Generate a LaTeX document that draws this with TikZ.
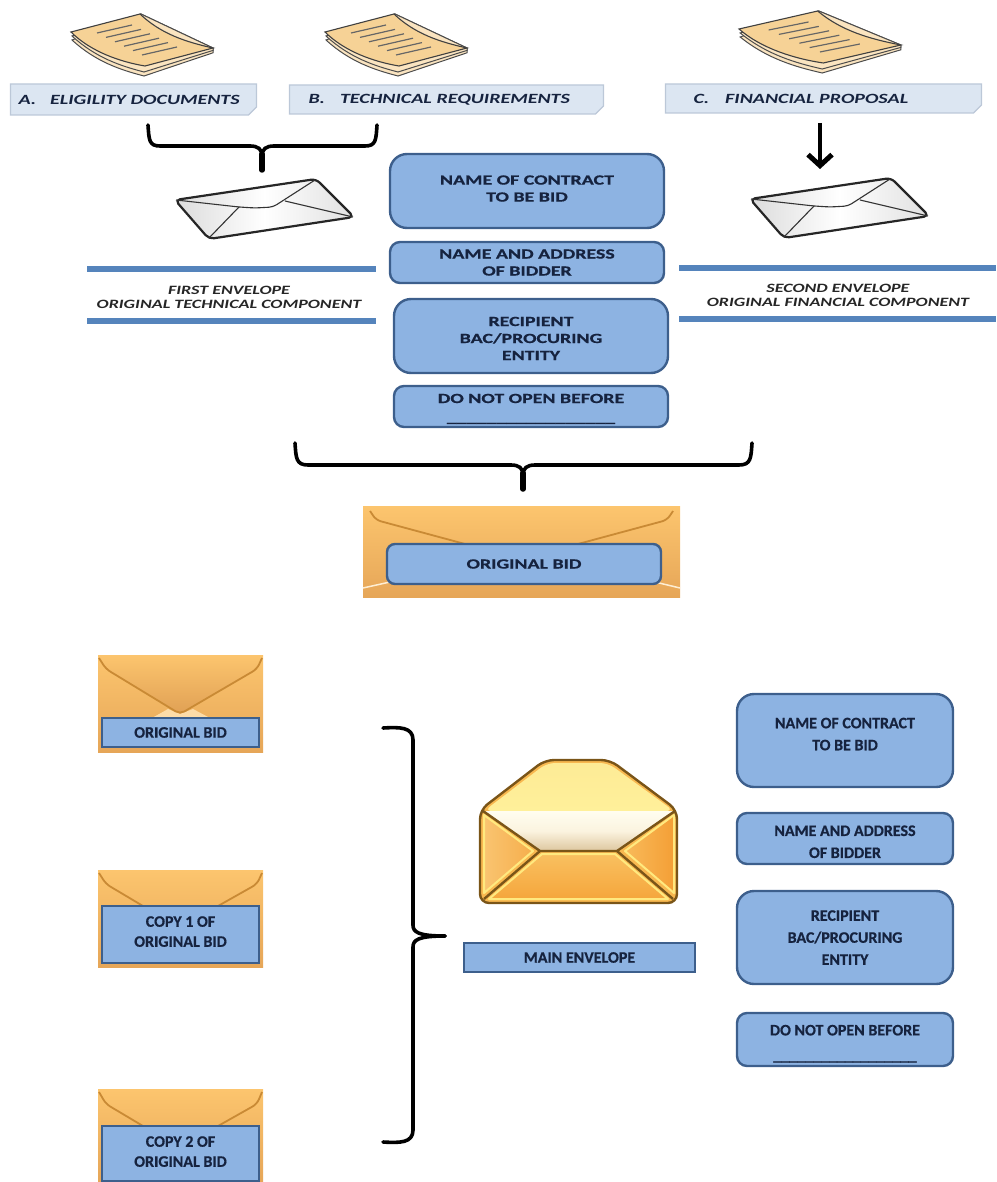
\documentclass[tikz,border=0pt]{standalone}
\usepackage{fontspec}
\usetikzlibrary{shapes.misc,arrows.meta}
\newfontfamily\widefont[FakeStretch=1.42,BoldFeatures={FakeBold=0.8}]{Carlito}
\newfontfamily\narrowfont[BoldFeatures={FakeBold=0.6}]{Carlito}
\newcommand{\lifttext}[1]{\rule[-#1pt]{0pt}{#1pt}}
\newcommand{\droptext}[1]{\rule{0pt}{#1pt}}
\definecolor{boxfill}{HTML}{8DB3E2}
\definecolor{boxedge}{HTML}{3D5F8C}
\definecolor{inknavy}{HTML}{16233F}
\definecolor{palebox}{HTML}{DCE6F2}
\definecolor{paleedge}{HTML}{BCC8D8}
\definecolor{rulecol}{HTML}{5584BC}
\definecolor{papertan}{HTML}{F6D296}
\definecolor{flapline}{HTML}{C98A35}
\definecolor{envtop}{HTML}{FCC56E}
\definecolor{envbot}{HTML}{E6A658}
\definecolor{mainedge}{HTML}{7A5518}
\definecolor{mainbase}{HTML}{F8B850}
\definecolor{flapA}{HTML}{FDEB96}
\definecolor{flapB}{HTML}{FFF09A}
\definecolor{bandA}{HTML}{FFFDF0}
\definecolor{bandB}{HTML}{FBF3DF}
\definecolor{bandC}{HTML}{DDC79F}
\definecolor{triA}{HTML}{F9C470}
\definecolor{triB}{HTML}{F6AE4C}
\definecolor{triC}{HTML}{F8BA5A}
\definecolor{triD}{HTML}{F49F36}
\definecolor{baseA}{HTML}{F9C060}
\definecolor{baseB}{HTML}{F5A63C}
\definecolor{glow}{HTML}{FFE97F}
\tikzset{
  bluebox/.style={draw=boxedge,line width=2.4pt,fill=boxfill,inner sep=0pt,align=center,text=inknavy},
  topfont/.style={font=\widefont\bfseries\fontsize{14}{17}\selectfont},
  lowfont/.style={font=\narrowfont\bfseries\fontsize{16}{22}\selectfont},
  leftfont/.style={font=\narrowfont\bfseries\fontsize{16}{20}\selectfont},
  bigr/.style={rounded corners=17pt},
  smallr/.style={rounded corners=10pt},
  squarebox/.style={draw=boxedge,line width=1.6pt,fill=boxfill,inner sep=0pt,align=center,text=inknavy},
  docbox/.style={chamfered rectangle,chamfered rectangle corners=south east,chamfered rectangle xsep=4pt,chamfered rectangle ysep=4pt,
    draw=paleedge,line width=1.2pt,fill=palebox,inner ysep=0pt,align=left,text=inknavy,
    font=\widefont\bfseries\itshape\fontsize{14.1}{14}\selectfont},
  captiontext/.style={inner sep=0pt,align=center,text=black!85,font=\widefont\bfseries\itshape\fontsize{12.7}{14}\selectfont},
  bandrule/.style={draw=rulecol,line width=6pt},
  bracepath/.style={draw=black,line width=3.6pt,line cap=round,line join=round},
  bracestem/.style={draw=black,line width=5.5pt,line cap=round},
  paperline/.style={draw=black!60,line width=1.2pt},
  mainline/.style={draw=mainedge,line width=2.4pt,line join=round},
  yellowedge/.style={draw=glow,line width=2pt,line join=round}
}
\newcommand{\docstack}[3]{%
 \begin{scope}[shift={(#1,#2)},xscale=#3]
  \foreach \d in {8,4}{
   \path[draw=black!70,line width=1pt,fill=papertan!60!white] (1,18+\d) .. controls (25,40+\d) and (50,48+\d) .. (73,54+\d) -- (142,34+\d*.6) -- (142,34) -- (70,0) -- cycle;
  }
  \path[draw=black!75,line width=1.1pt,fill=papertan] (0,18) -- (69,0) .. controls (90,20) and (115,28) .. (142,34) -- (74,52) .. controls (50,48) and (20,38) .. (0,18) -- cycle;
  \foreach \i in {0,...,5}{
   \draw[paperline] (26+9*\i,19+4.4*\i) -- (61+9*\i,11+4.4*\i);
  }
 \end{scope}}
\newcommand{\whiteenv}[2]{%
 \begin{scope}[shift={(#1,#2)}]
  \path[draw=black!85,line width=2.2pt,line join=round,rounded corners=5pt,left color=black!14,right color=black!12,middle color=white]
    (0,21) -- (141,0) -- (179,38) -- (34,60) -- cycle;
  \draw[black!80,line width=1.1pt,rounded corners=4pt] (1,21) -- (64,28) -- (80,29) -- (98,28) -- (140,1);
  \draw[black!80,line width=1.1pt] (34,59) -- (64,28);
  \draw[black!80,line width=1.1pt] (178,38) -- (110,22);
 \end{scope}}
\newcommand{\orangeenv}[4]{% x1,y1,x2,y2
 \path[bottom color=envbot,top color=envtop] (#1,#2) rectangle (#3,#4);}
\begin{document}
\begin{tikzpicture}[x=1pt,y=-1pt]
\useasboundingbox (0,0) rectangle (996,1182);
% document stacks
\docstack{71}{14}{1}
\docstack{325}{14}{1}
\docstack{739}{11}{1.14}
% document labels
\node[docbox,minimum height=31pt,inner xsep=4pt,text width=230pt] (docA) at (133.5,99.5) {A.\hspace{14pt}ELIGILITY DOCUMENTS};
\node[docbox,minimum height=29pt,inner xsep=15pt,text width=276pt] (docB) at (446.5,99.5) {B.\hspace{15pt}TECHNICAL REQUIREMENTS};
\node[docbox,minimum height=29pt,inner xsep=24pt,text width=260pt] (docC) at (823.5,98.5) {C.\hspace{16pt}FINANCIAL PROPOSAL};
% first brace
\coordinate (braceAL) at (148,125);
\coordinate (braceAR) at (377,125);
\coordinate (braceAT) at (262,170);
\draw[bracepath] (braceAL) .. controls (149,140) and (149,146) .. (160,146) -- (250,146) .. controls (258,146) and (262,149) .. (262,156);
\draw[bracepath] (braceAR) .. controls (376,140) and (376,146) .. (365,146) -- (274,146) .. controls (266,146) and (262,149) .. (262,156);
\draw[bracestem] (262,154) -- (braceAT);
% arrow
\coordinate (arrowS) at (820,123);
\coordinate (arrowE) at (820,169);
\draw[draw=black,line width=4.2pt,-{Straight Barb[length=11pt,width=24pt,line width=5pt]}] (arrowS) -- (arrowE);
% white envelopes
\whiteenv{175}{179}
\whiteenv{750}{178}
% rules
\coordinate (ruleAa) at (87,269); \coordinate (ruleAb) at (376,269);
\coordinate (ruleBa) at (87,321); \coordinate (ruleBb) at (376,321);
\coordinate (ruleCa) at (679,268); \coordinate (ruleCb) at (996,268);
\coordinate (ruleDa) at (679,319); \coordinate (ruleDb) at (996,319);
\draw[bandrule] (ruleAa) -- (ruleAb);
\draw[bandrule] (ruleBa) -- (ruleBb);
\draw[bandrule] (ruleCa) -- (ruleCb);
\draw[bandrule] (ruleDa) -- (ruleDb);
\node[captiontext] (capFirst) at (229,297) {FIRST ENVELOPE\\ORIGINAL TECHNICAL COMPONENT};
\node[captiontext] (capSecond) at (838,295) {SECOND ENVELOPE\\ORIGINAL FINANCIAL COMPONENT};
% centre stack
\node[bluebox,topfont,bigr,minimum width=274pt,minimum height=74pt] (topName) at (527,191) {NAME OF CONTRACT\\TO BE BID\lifttext{5}};
\node[bluebox,topfont,smallr,minimum width=274pt,minimum height=41pt] (topBidder) at (527,262.5) {NAME AND ADDRESS\\OF BIDDER};
\node[bluebox,topfont,bigr,minimum width=274pt,minimum height=74pt] (topRecip) at (531,336) {\droptext{14}RECIPIENT\\BAC/PROCURING\\ENTITY};
\node[bluebox,topfont,smallr,minimum width=274pt,minimum height=41pt] (topOpen) at (531,406.5) {\droptext{14}DO NOT OPEN BEFORE\\[2pt]\_\_\_\_\_\_\_\_\_\_\_\_\_\_\_\_\_};
% second brace
\coordinate (braceBL) at (295,443);
\coordinate (braceBR) at (752,443);
\coordinate (braceBT) at (523,489);
\draw[bracepath] (braceBL) .. controls (296,458) and (296,465) .. (308,465) -- (511,465) .. controls (519,465) and (523,468) .. (523,475);
\draw[bracepath] (braceBR) .. controls (751,458) and (751,465) .. (739,465) -- (535,465) .. controls (527,465) and (523,468) .. (523,475);
\draw[bracestem] (523,473) -- (braceBT);
% original bid envelope
\orangeenv{363}{506}{680}{597}
\draw[flapline,line width=1.8pt,rounded corners=5pt] (370,511) -- (376,520) -- (465,544);
\draw[flapline,line width=1.8pt,rounded corners=5pt] (673,511) -- (667,520) -- (578,544);
\draw[white!70!envtop,line width=1.5pt] (363,588) -- (390,582);
\draw[white!70!envtop,line width=1.5pt] (680,588) -- (655,582);
\node[bluebox,topfont,rounded corners=8pt,minimum width=274pt,minimum height=40pt] (mainBid) at (524,564) {ORIGINAL BID};
% left envelopes
\orangeenv{98}{655}{263}{752}
\path[top color=envtop,bottom color=envbot!85!brown] (98,655) -- (263,655) -- (257,669) -- (180,714) -- (106,669) -- cycle;
\path[fill=envtop!60!white] (152,718) -- (168,709) -- (180,714) -- (193,709) -- (210,718) -- cycle;
\draw[flapline,line width=1.8pt,rounded corners=5pt] (99,658) -- (106,669) -- (180,714) -- (257,669) -- (262,658);
\node[squarebox,leftfont,minimum width=157pt,minimum height=29pt] (leftOrig) at (180.5,732.5) {ORIGINAL BID};
\orangeenv{98}{870}{263}{967}
\draw[flapline,line width=1.8pt,rounded corners=5pt] (99,873) -- (106,884) -- (143,906);
\draw[flapline,line width=1.8pt,rounded corners=5pt] (262,873) -- (257,884) -- (218,906);
\node[squarebox,leftfont,minimum width=157pt,minimum height=57pt] (leftCopyA) at (180.5,934.5) {COPY 1 OF\\ORIGINAL BID\lifttext{6}};
\orangeenv{98}{1089}{263}{1182}
\draw[flapline,line width=1.8pt,rounded corners=5pt] (99,1092) -- (106,1104) -- (143,1126);
\draw[flapline,line width=1.8pt,rounded corners=5pt] (262,1092) -- (257,1104) -- (218,1126);
\node[squarebox,leftfont,minimum width=157pt,minimum height=55pt] (leftCopyB) at (180.5,1153.5) {COPY 2 OF\\ORIGINAL BID\lifttext{4}};
% big right brace
\coordinate (braceCT) at (383,728);
\coordinate (braceCB) at (383,1142);
\coordinate (braceCP) at (445,936);
\draw[bracepath] (braceCT) .. controls (400,727) and (413,727) .. (413,740) -- (413,925) .. controls (413,932) and (418,936) .. (braceCP);
\draw[bracepath] (braceCB) .. controls (400,1143) and (413,1143) .. (413,1130) -- (413,947) .. controls (413,940) and (418,936) .. (braceCP);
% main envelope
\path[rounded corners=9pt,fill=mainbase] (578,760) -- (610,760) -- (677,810) -- (677,903) -- (480,903) -- (480,810) -- (545,760) -- cycle;
\path[rounded corners=8pt,top color=flapA,bottom color=flapB] (484,811) -- (547,763) -- (608,763) -- (674,811) -- cycle;
\path[top color=bandA,bottom color=bandC,middle color=bandB] (485,811) -- (674,811) -- (617,851) -- (540,851) -- cycle;
\path[left color=triA,right color=triB,yellowedge] (484,815) -- (533,851) -- (484,893) -- cycle;
\path[left color=triC,right color=triD,yellowedge] (674,815) -- (625,851) -- (674,893) -- cycle;
\path[top color=baseA,bottom color=baseB,yellowedge] (542,854) -- (615,854) -- (668,899) -- (489,899) -- cycle;
\draw[mainline] (483,811) -- (540,851) -- (617,851) -- (675,811);
\draw[mainline] (540,851) -- (484,899);
\draw[mainline] (617,851) -- (673,899);
\draw[mainline,rounded corners=9pt] (578,760) -- (610,760) -- (677,810) -- (677,903) -- (480,903) -- (480,810) -- (545,760) -- cycle;
\node[squarebox,lowfont,minimum width=231pt,minimum height=29pt] (mainEnv) at (579.5,957.5) {MAIN ENVELOPE};
% right stack
\node[bluebox,lowfont,bigr,minimum width=216pt,minimum height=93pt] (lowName) at (845,740.5) {NAME OF CONTRACT\\TO BE BID\lifttext{13}};
\node[bluebox,lowfont,smallr,minimum width=216pt,minimum height=51pt] (lowBidder) at (845,838.5) {\droptext{17}NAME AND ADDRESS\\OF BIDDER};
\node[bluebox,lowfont,bigr,minimum width=216pt,minimum height=93pt] (lowRecip) at (845,937.5) {RECIPIENT\\BAC/PROCURING\\ENTITY};
\node[bluebox,lowfont,smallr,minimum width=216pt,minimum height=53pt] (lowOpen) at (845,1039.5) {\droptext{19}DO NOT OPEN BEFORE\\[3pt]\_\_\_\_\_\_\_\_\_\_\_\_\_\_\_\_\_\_};
\end{tikzpicture}
\end{document}
